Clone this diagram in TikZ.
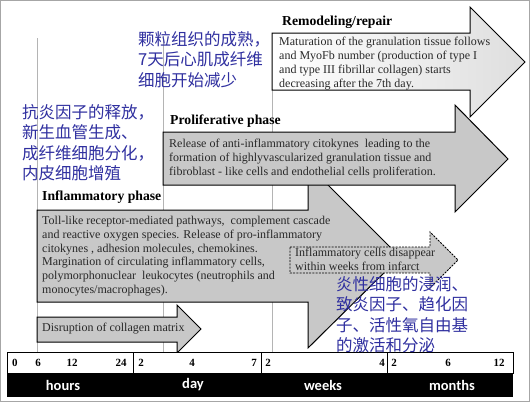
\documentclass[tikz,border=0pt]{standalone}
\usepackage{fontspec}
\setmainfont{Liberation Serif}
\newfontfamily\cjk{Noto Sans CJK SC}
\newfontfamily\labfont{Carlito}
\definecolor{phasegray}{RGB}{200,200,200}
\definecolor{lightend}{RGB}{222,222,222}
\definecolor{cnblue}{RGB}{48,48,160}
\definecolor{txtdark}{RGB}{40,40,40}
\definecolor{guidegray}{RGB}{180,180,180}
\begin{document}
\begin{tikzpicture}[x=1pt,y=-1pt,
  guide/.style={draw=guidegray, line width=0.9pt},
  phasearrow/.style={draw=black, line width=1pt, fill=phasegray, line join=miter},
  body/.style={font=\fontsize{12}{13.8}\selectfont, text=txtdark, align=left, inner sep=0pt, anchor=north west},
  phaselabel/.style={font=\bfseries\fontsize{13.7}{15}\selectfont, text=black, inner sep=0pt, anchor=west},
  cn/.style={font=\cjk\fontsize{16.5}{20.5}\selectfont, text=cnblue, align=left, inner sep=0pt, anchor=north west},
  num/.style={font=\bfseries\fontsize{11}{12}\selectfont, inner sep=0pt},
  unit/.style={font=\labfont\bfseries\fontsize{14.5}{16}\selectfont, text=white, inner sep=0pt}]
\useasboundingbox (0,0) rectangle (530,402);
\fill[white] (0,0) rectangle (530,402);
\draw[gray!70, line width=1pt] (0.5,0.5) rectangle (529.5,401.5);

% guide lines
\draw[guide] (37,38) -- (37,352);
\draw[guide] (163,36) -- (163,352);
\draw[guide] (272,33) -- (272,352);

% remodeling arrow
\draw[draw=black, line width=1pt, left color=white, right color=lightend]
  (272,33) -- (470,33) -- (470,7) -- (525,62) -- (470,117) -- (470,90) -- (272,90) -- cycle;
\node[phaselabel] (remlab) at (282,22) {Remodeling/repair};
\node[body] (remtext) at (279,37) {Maturation of the granulation tissue follows\\and MyoFb number (production of type I\\and type III fibrillar collagen) starts\\decreasing after the 7th day.};

% inflammatory arrow
\draw[phasearrow]
  (37,210) -- (308,210) -- (308,165) -- (400,257) -- (308,348) -- (308,302) -- (37,302) -- cycle;
\node[phaselabel] (inflab) at (42,197) {Inflammatory phase};
\node[body] (inftext) at (42,216) {Toll-like receptor-mediated pathways,\ \ complement cascade\\and reactive oxygen species. Release of pro-inflammatory\\citokynes , adhesion molecules, chemokines.\\Margination of circulating inflammatory cells,\\polymorphonuclear\ \ leukocytes (neutrophils and\\monocytes/macrophages).};

% proliferative arrow
\draw[phasearrow]
  (163,132) -- (455,132) -- (455,105) -- (508,159) -- (455,212) -- (455,185) -- (163,185) -- cycle;
\node[phaselabel] (prolab) at (170,121) {Proliferative phase};
\node[body] (protext) at (169,139) {Release of anti-inflammatory citokynes\ \ leading to the\\formation of highlyvascularized granulation tissue and\\fibroblast - like cells and endothelial cells proliferation.};

% dashed arrow
\draw[draw=black, line width=0.9pt, dashed, dash pattern=on 2pt off 1.2pt, fill=phasegray]
  (290,247) -- (430,247) -- (430,232) -- (458,260) -- (430,288) -- (430,273) -- (290,273) -- cycle;
\node[body] (distext) at (295,248) {Inflammatory cells disappear\\within weeks from infarct};

% disruption arrow
\draw[phasearrow]
  (37,317) -- (177,317) -- (177,305) -- (201,329) -- (177,353) -- (177,342) -- (37,342) -- cycle;
\node[body] (colltext) at (42,323) {Disruption of collagen matrix};

% timeline
\draw[fill=white, draw=black, line width=0.8pt] (7,352) rectangle (513,373);
\fill[black] (7,373) rectangle (513,397);
\draw[black, line width=0.8pt] (133,352) -- (133,373) (261,352) -- (261,373) (387,352) -- (387,373);
\node[num] (n0) at (15,363) {0};
\node[num] (n6) at (38,363) {6};
\node[num] (n12) at (72,363) {12};
\node[num] (n24) at (121,363) {24};
\node[num] (d2) at (141,363) {2};
\node[num] (d4) at (192,363) {4};
\node[num] (d7) at (254,363) {7};
\node[num] (w2) at (268,363) {2};
\node[num] (w4) at (382,363) {4};
\node[num] (m2) at (394,363) {2};
\node[num] (m6) at (448,363) {6};
\node[num] (m12) at (499,363) {12};
\node[unit] (hours) at (63,385) {hours};
\node[unit] (day) at (193,385) {day};
\node[unit] (weeks) at (323,385) {weeks};
\node[unit] (months) at (452,385) {months};

% Chinese annotations
\node[cn] (cn1) at (138,31) {颗粒组织的成熟，\\7天后心肌成纤维\\细胞开始减少};
\node[cn] (cn2) at (22,104) {抗炎因子的释放，\\新生血管生成、\\成纤维细胞分化，\\内皮细胞增殖};
\node[cn] (cn3) at (336,276) {炎性细胞的浸润、\\致炎因子、趋化因\\子、活性氧自由基\\的激活和分泌};
\end{tikzpicture}
\end{document}
